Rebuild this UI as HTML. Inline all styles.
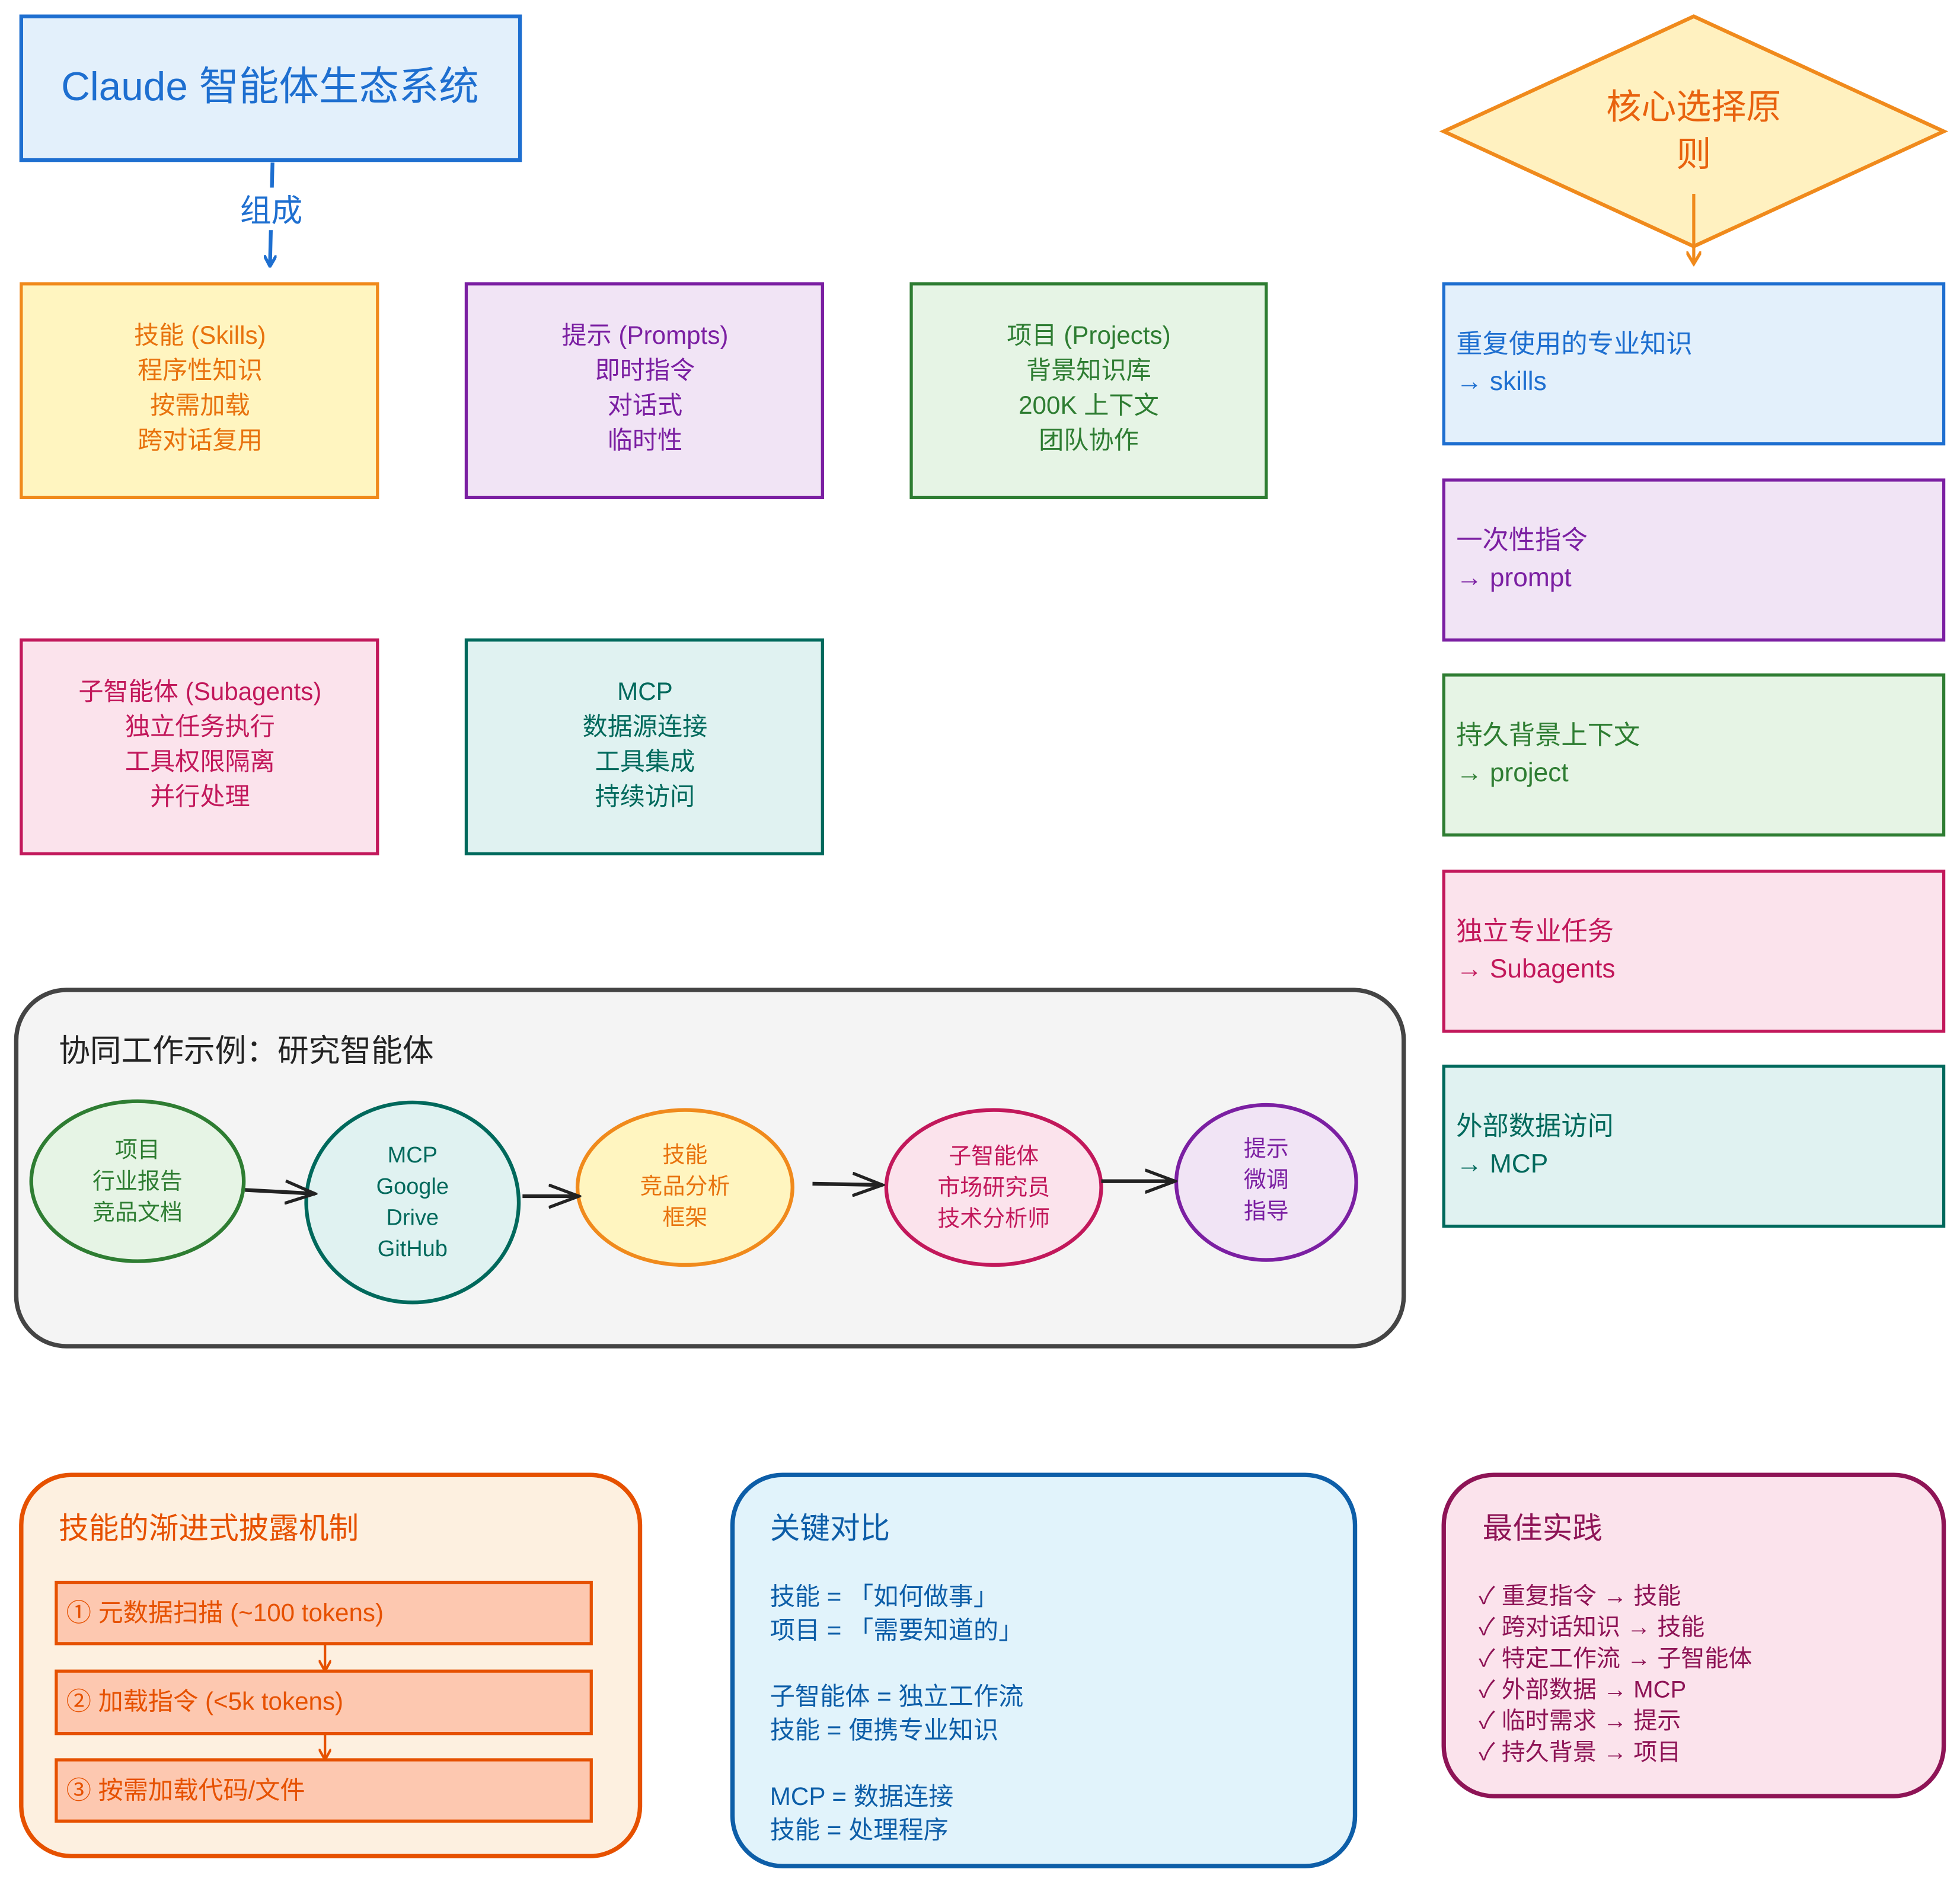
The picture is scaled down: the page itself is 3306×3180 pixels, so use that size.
<!DOCTYPE html>
<html><head><meta charset="utf-8"><style>
html,body{margin:0;padding:0;background:#fff}
svg{display:block}
text{font-family:"Liberation Sans","Noto Sans CJK SC",sans-serif}
</style></head><body>
<svg width="3306" height="3180" viewBox="0 0 1568 1508" xmlns="http://www.w3.org/2000/svg">
<defs>
<marker id="ab" markerWidth="10" markerHeight="10" refX="8" refY="5" orient="auto" markerUnits="userSpaceOnUse"><path d="M0,0 L9,5 L0,10" fill="none" stroke="#1e6fd0" stroke-width="2.5"/></marker>
<marker id="ao" markerWidth="12" markerHeight="12" refX="10" refY="6" orient="auto" markerUnits="userSpaceOnUse"><path d="M0,0 L10,6 L0,12" fill="none" stroke="#f08a1c" stroke-width="2.5"/></marker>
<marker id="ak" markerWidth="26" markerHeight="20" refX="24" refY="10" orient="auto" markerUnits="userSpaceOnUse"><path d="M0,1 L24,10 L0,19" fill="none" stroke="#222" stroke-width="2.5"/></marker>
<marker id="ae" markerWidth="10" markerHeight="10" refX="8" refY="5" orient="auto" markerUnits="userSpaceOnUse"><path d="M0,0 L9,5 L0,10" fill="none" stroke="#e65100" stroke-width="2"/></marker>
</defs>

<!-- title -->
<rect x="17" y="13" width="399" height="115" fill="#e3f0fb" stroke="#1e6fd0" stroke-width="3"/>
<text x="216" y="80" font-size="32" fill="#1e6fd0" text-anchor="middle">Claude 智能体生态系统</text>
<line x1="218" y1="130" x2="216" y2="212" stroke="#1e6fd0" stroke-width="3" marker-end="url(#ab)"/>
<rect x="190" y="150" width="56" height="34" fill="#fff"/>
<text x="217" y="177" font-size="25" fill="#1e6fd0" text-anchor="middle">组成</text>

<!-- row1 -->
<g font-size="20" text-anchor="middle">
<rect x="17" y="227" width="285" height="171" fill="#fff5c0" stroke="#f08a1c" stroke-width="2.5"/>
<g fill="#e8730e"><text x="160" y="275">技能 (Skills)</text><text x="160" y="303">程序性知识</text><text x="160" y="331">按需加载</text><text x="160" y="359">跨对话复用</text></g>
<rect x="373" y="227" width="285" height="171" fill="#f1e4f5" stroke="#7b1fa2" stroke-width="2.5"/>
<g fill="#7b1fa2"><text x="516" y="275">提示 (Prompts)</text><text x="516" y="303">即时指令</text><text x="516" y="331">对话式</text><text x="516" y="359">临时性</text></g>
<rect x="729" y="227" width="284" height="171" fill="#e6f4e5" stroke="#2e7d32" stroke-width="2.5"/>
<g fill="#2e7d32"><text x="871" y="275">项目 (Projects)</text><text x="871" y="303">背景知识库</text><text x="871" y="331">200K 上下文</text><text x="871" y="359">团队协作</text></g>
<rect x="17" y="512" width="285" height="171" fill="#fbe3ec" stroke="#c2185b" stroke-width="2.5"/>
<g fill="#c2185b"><text x="160" y="560">子智能体 (Subagents)</text><text x="160" y="588">独立任务执行</text><text x="160" y="616">工具权限隔离</text><text x="160" y="644">并行处理</text></g>
<rect x="373" y="512" width="285" height="171" fill="#e0f2f1" stroke="#00695c" stroke-width="2.5"/>
<g fill="#00695c"><text x="516" y="560">MCP</text><text x="516" y="588">数据源连接</text><text x="516" y="616">工具集成</text><text x="516" y="644">持续访问</text></g>
</g>

<!-- diamond -->
<polygon points="1355,13 1555,105 1355,197 1155,105" fill="#fff1c0" stroke="#f08a1c" stroke-width="3"/>
<text x="1355" y="95" font-size="28" fill="#e8620e" text-anchor="middle">核心选择原</text>
<text x="1355" y="133" font-size="28" fill="#e8620e" text-anchor="middle">则</text>
<line x1="1355" y1="155" x2="1355" y2="211" stroke="#f08a1c" stroke-width="2.5" marker-end="url(#ao)"/>

<!-- right boxes -->
<g font-size="21">
<rect x="1155" y="227" width="400" height="128" fill="#e3f0fb" stroke="#1e6fd0" stroke-width="2.5"/>
<text x="1165" y="282" fill="#1e6fd0">重复使用的专业知识</text><text x="1165" y="312" fill="#1e6fd0">→ skills</text>
<rect x="1155" y="384" width="400" height="128" fill="#f1e4f5" stroke="#7b1fa2" stroke-width="2.5"/>
<text x="1165" y="439" fill="#7b1fa2">一次性指令</text><text x="1165" y="469" fill="#7b1fa2">→ prompt</text>
<rect x="1155" y="540" width="400" height="128" fill="#e6f4e5" stroke="#2e7d32" stroke-width="2.5"/>
<text x="1165" y="595" fill="#2e7d32">持久背景上下文</text><text x="1165" y="625" fill="#2e7d32">→ project</text>
<rect x="1155" y="697" width="400" height="128" fill="#fbe3ec" stroke="#c2185b" stroke-width="2.5"/>
<text x="1165" y="752" fill="#c2185b">独立专业任务</text><text x="1165" y="782" fill="#c2185b">→ Subagents</text>
<rect x="1155" y="853" width="400" height="128" fill="#e0f2f1" stroke="#00695c" stroke-width="2.5"/>
<text x="1165" y="908" fill="#00695c">外部数据访问</text><text x="1165" y="938" fill="#00695c">→ MCP</text>
</g>

<!-- workflow -->
<rect x="13" y="792" width="1110" height="285" rx="40" fill="#f4f4f4" stroke="#444" stroke-width="3.5"/>
<text x="47" y="849" font-size="25" fill="#222">协同工作示例：研究智能体</text>
<g font-size="18" text-anchor="middle" stroke-width="3">
<ellipse cx="110" cy="945" rx="85" ry="64" fill="#e6f4e5" stroke="#2e7d32"/>
<g fill="#2e7d32" stroke="none"><text x="110" y="926">项目</text><text x="110" y="951">行业报告</text><text x="110" y="976">竞品文档</text></g>
<ellipse cx="330" cy="962" rx="85" ry="80" fill="#e0f2f1" stroke="#00695c"/>
<g fill="#00695c" stroke="none"><text x="330" y="930">MCP</text><text x="330" y="955">Google</text><text x="330" y="980">Drive</text><text x="330" y="1005">GitHub</text></g>
<ellipse cx="548" cy="950" rx="86" ry="62" fill="#fff5c0" stroke="#f08a1c"/>
<g fill="#e8730e" stroke="none"><text x="548" y="930">技能</text><text x="548" y="955">竞品分析</text><text x="548" y="980">框架</text></g>
<ellipse cx="795" cy="950" rx="86" ry="62" fill="#fbe3ec" stroke="#c2185b"/>
<g fill="#c2185b" stroke="none"><text x="795" y="931">子智能体</text><text x="795" y="956">市场研究员</text><text x="795" y="981">技术分析师</text></g>
<ellipse cx="1013" cy="946" rx="72" ry="62" fill="#f1e4f5" stroke="#7b1fa2"/>
<g fill="#7b1fa2" stroke="none"><text x="1013" y="925">提示</text><text x="1013" y="950">微调</text><text x="1013" y="975">指导</text></g>
</g>
<g stroke="#222" stroke-width="3" fill="none">
<line x1="196" y1="952" x2="252" y2="955" marker-end="url(#ak)"/>
<line x1="418" y1="957" x2="463" y2="957" marker-end="url(#ak)"/>
<line x1="650" y1="947" x2="706" y2="948" marker-end="url(#ak)"/>
<line x1="881" y1="945" x2="940" y2="945" marker-end="url(#ak)"/>
</g>

<!-- bottom orange -->
<rect x="17" y="1180" width="495" height="305" rx="40" fill="#fdf0e0" stroke="#e65100" stroke-width="3.5"/>
<text x="47" y="1231" font-size="24" fill="#e65100">技能的渐进式披露机制</text>
<g font-size="20" fill="#e65100">
<rect x="45" y="1266" width="428" height="49" fill="#fdc8b0" stroke="#e65100" stroke-width="2.5"/>
<text x="53" y="1297">① 元数据扫描 (~100 tokens)</text>
<rect x="45" y="1337" width="428" height="50" fill="#fdc8b0" stroke="#e65100" stroke-width="2.5"/>
<text x="53" y="1368">② 加载指令 (&lt;5k tokens)</text>
<rect x="45" y="1408" width="428" height="49" fill="#fdc8b0" stroke="#e65100" stroke-width="2.5"/>
<text x="53" y="1439">③ 按需加载代码/文件</text>
</g>
<line x1="260" y1="1315" x2="260" y2="1336" stroke="#e65100" stroke-width="2" marker-end="url(#ae)"/>
<line x1="260" y1="1387" x2="260" y2="1407" stroke="#e65100" stroke-width="2" marker-end="url(#ae)"/>

<!-- bottom blue -->
<rect x="586" y="1180" width="498" height="313" rx="40" fill="#e1f3fb" stroke="#0d5ea8" stroke-width="3.5"/>
<text x="616" y="1231" font-size="24" fill="#0d5ea8">关键对比</text>
<g font-size="20" fill="#0d5ea8">
<text x="616" y="1284">技能 = 「如何做事」</text><text x="616" y="1311">项目 = 「需要知道的」</text>
<text x="616" y="1364">子智能体 = 独立工作流</text><text x="616" y="1391">技能 = 便携专业知识</text>
<text x="616" y="1444">MCP = 数据连接</text><text x="616" y="1471">技能 = 处理程序</text>
</g>

<!-- bottom pink -->
<rect x="1155" y="1180" width="400" height="257" rx="40" fill="#fbe3ec" stroke="#8e1456" stroke-width="3.5"/>
<text x="1186" y="1231" font-size="24" fill="#8e1456">最佳实践</text>
<g font-size="19" fill="#8e1456">
<text x="1183" y="1283">✓ 重复指令 → 技能</text><text x="1183" y="1308">✓ 跨对话知识 → 技能</text>
<text x="1183" y="1333">✓ 特定工作流 → 子智能体</text><text x="1183" y="1358">✓ 外部数据 → MCP</text>
<text x="1183" y="1383">✓ 临时需求 → 提示</text><text x="1183" y="1408">✓ 持久背景 → 项目</text>
</g>
</svg>
</body></html>
